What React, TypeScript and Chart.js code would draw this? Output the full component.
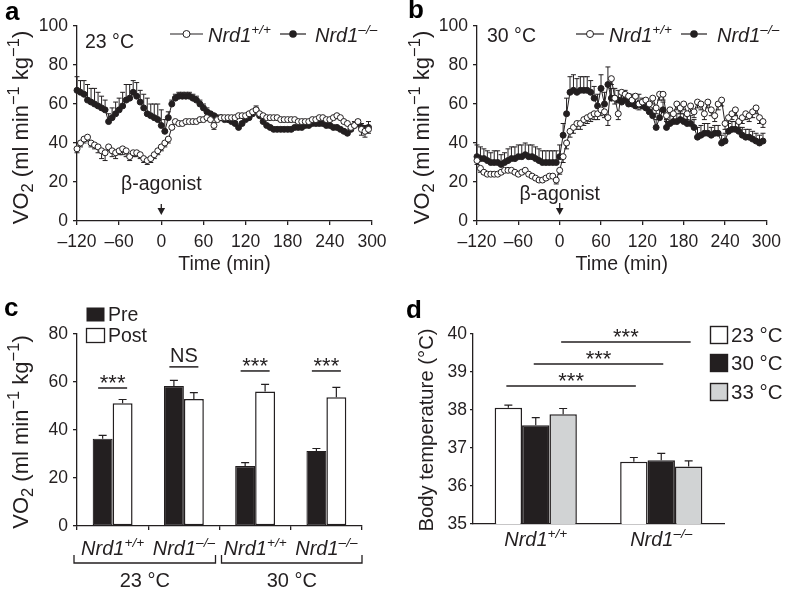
import React, { useEffect, useRef } from "react";
import { Chart, registerables } from "chart.js";
Chart.register(...registerables);

const FONT = '"Liberation Sans", Arial, Helvetica, sans-serif';
const INK = "#231f20";
const GREY = "#d1d3d4";
Chart.defaults.font.family = FONT;
Chart.defaults.color = INK;

// ---------- DATA ----------
const TIMES = [
  -120, -115, -110, -105, -100, -95, -90, -85, -80, -75, -70, -65,
  -60, -55, -50, -45, -40, -35, -30, -25, -20, -15, -10, -5,
  0, 5, 10, 15, 20, 25, 30, 35, 40, 45, 50, 55,
  60, 65, 70, 75, 80, 85, 90, 95, 100, 105, 110, 115,
  120, 125, 130, 135, 140, 145, 150, 155, 160, 165, 170, 175,
  180, 185, 190, 195, 200, 205, 210, 215, 220, 225, 230, 235,
  240, 245, 250, 255, 260, 265, 270, 275, 280, 285, 290, 295,
];
const TIME_TICKS = [-120, -60, 0, 60, 120, 180, 240, 300];

// Panel a (23 °C)
const WT_A = [
  37, 40, 42, 43, 40, 39, 38, 36, 35, 38, 36, 35,
  36, 37, 36, 33, 35, 35, 34, 32, 31, 32, 34, 36,
  38, 40, 42, 48, 51, 50, 50, 51, 51, 51, 51, 52,
  52, 53, 52, 49, 52, 53, 53, 53, 53, 53, 54, 54,
  54, 55, 56, 57, 55, 54, 53, 53, 53, 53, 52, 52,
  52, 52, 52, 51, 51, 51, 51, 52, 52, 53, 53, 52,
  52, 53, 54, 53, 51, 50, 48, 49, 51, 47, 46, 47,
];
const WT_A_ERR = [
  2, 2, 2, 2, 2, 2, 3, 4, 4, 2, 3, 3,
  2, 3, 3, 2, 2, 2, 2, 2, 2, 2, 2, 2,
  2, 2, 2, 1, 1, 1, 1, 1, 1, 1, 1, 1,
  1, 1, 1, 2, 1, 1, 1, 1, 1, 1, 1, 1,
  1, 1, 1, 1, 1, 1, 1, 1, 1, 1, 1, 1,
  1, 1, 1, 1, 1, 1, 1, 1, 1, 1, 1, 1,
  1, 1, 1, 1, 1, 1, 1, 1, 1, 3, 3, 2,
];
const KO_A = [
  67, 66, 65, 62, 61, 60, 59, 58, 57, 51, 53, 55,
  57, 59, 62, 63, 66, 64, 61, 58, 55, 54, 53, 52,
  49, 46, 53, 60, 63, 64, 64, 64, 64, 63, 62, 60,
  58, 56, 55, 54, 53, 53, 52, 52, 51, 50, 48, 50,
  52, 53, 55, 57, 54, 51, 49, 48, 47, 47, 47, 47,
  47, 47, 48, 48, 48, 49, 49, 50, 50, 50, 50, 49,
  49, 48, 48, 47, 46, 45, 47, 49, 50, 48, 47, 48,
];
const KO_A_ERR = [
  7, 6, 7, 8, 7, 8, 7, 6, 5, 4, 5, 6,
  6, 7, 8, 7, 6, 7, 6, 7, 8, 6, 7, 8,
  8, 6, 3, 2, 2, 2, 2, 2, 2, 2, 2, 2,
  2, 2, 1, 1, 1, 1, 1, 1, 1, 1, 1, 1,
  1, 1, 1, 2, 1, 1, 1, 1, 1, 1, 1, 1,
  1, 1, 1, 1, 1, 1, 1, 2, 2, 3, 2, 1,
  1, 1, 1, 1, 1, 1, 1, 2, 2, 2, 2, 3,
];

// Panel b (30 °C)
const WT_B = [
  31, 27, 25, 24, 24, 24, 24, 25, 26, 26, 26, 25,
  24, 25, 26, 24, 23, 22, 21, 21, 22, 23, 23, 21,
  26, 33, 40, 46, 48, 50, 50, 52, 53, 54, 55, 55,
  57, 56, 53, 73, 63, 55, 66, 65, 64, 62, 64, 60,
  61, 62, 60, 63, 58, 65, 65, 54, 57, 55, 60, 58,
  60, 55, 59, 56, 61, 60, 55, 61, 57, 54, 60, 62,
  50, 53, 55, 57, 51, 53, 55, 54, 56, 58, 53, 51,
];
const WT_B_ERR = [
  2, 2, 1, 1, 1, 1, 1, 1, 1, 1, 1, 1,
  1, 1, 1, 1, 1, 1, 1, 1, 1, 1, 1, 2,
  2, 3, 3, 3, 3, 3, 3, 3, 3, 3, 3, 3,
  3, 3, 4, 3, 3, 3, 3, 3, 3, 3, 3, 3,
  3, 3, 3, 3, 3, 3, 3, 3, 3, 3, 3, 3,
  3, 3, 3, 3, 3, 3, 3, 3, 3, 3, 3, 3,
  3, 3, 3, 3, 3, 3, 3, 3, 3, 3, 3, 3,
];
const KO_B = [
  33, 32, 32, 31, 30, 30, 30, 29, 30, 31, 32, 32,
  33, 33, 34, 33, 33, 32, 31, 30, 30, 30, 30, 30,
  33, 44, 55, 66, 67, 66, 67, 67, 67, 66, 63, 59,
  68, 60, 70, 63, 63, 62, 61, 62, 60, 60, 59, 60,
  59, 58, 56, 54, 48, 53, 57, 48, 50, 51, 51, 52,
  51, 50, 50, 48, 43, 44, 45, 45, 44, 45, 45, 40,
  41, 46, 47, 47, 46, 44, 43, 43, 42, 41, 40, 41,
];
const KO_B_ERR = [
  6, 6, 5, 5, 5, 6, 6, 5, 5, 6, 6, 6,
  6, 6, 6, 6, 6, 6, 6, 6, 6, 6, 6, 6,
  6, 6, 8, 8, 8, 7, 7, 7, 7, 6, 6, 6,
  7, 6, 9, 5, 5, 5, 5, 5, 5, 5, 5, 5,
  4, 4, 4, 4, 4, 4, 4, 4, 4, 4, 4, 4,
  4, 4, 4, 4, 5, 5, 5, 5, 4, 4, 4, 4,
  4, 4, 4, 4, 4, 4, 4, 4, 4, 4, 4, 4,
];

// Panel c
const C_GROUPS = ["Nrd1+/+ 23", "Nrd1-/- 23", "Nrd1+/+ 30", "Nrd1-/- 30"];
const C_PRE = [36.4, 58.3, 25.0, 31.3];
const C_PRE_ERR = [1.4, 2.4, 1.4, 1.0];
const C_POST = [51.1, 52.9, 56.0, 53.6];
const C_POST_ERR = [1.6, 2.7, 3.0, 4.2];
const C_SIG = ["***", "NS", "***", "***"];
const C_SIG_Y = [57.5, 66.3, 64.6, 64.6];

// Panel d
const D_GROUPS = ["Nrd1+/+", "Nrd1-/-"];
const D_T23 = [38.06, 36.64];
const D_T23_ERR = [0.07, 0.11];
const D_T30 = [37.6, 36.68];
const D_T30_ERR = [0.2, 0.18];
const D_T33 = [37.89, 36.51];
const D_T33_ERR = [0.15, 0.15];
const D_SIG_Y = [38.63, 39.21, 39.79];

// ---------- TEXT HELPERS ----------
type Seg = { t: string; s?: "sub" | "sup"; i?: boolean };
function segFont(g: Seg, size: number, ratio: number) {
  const sz = g.s ? size * ratio : size;
  return `${g.i ? "italic " : ""}${sz}px ${FONT}`;
}
function richWidth(ctx: CanvasRenderingContext2D, segs: Seg[], size: number, ratio: number) {
  let w = 0;
  for (const g of segs) {
    ctx.font = segFont(g, size, ratio);
    w += ctx.measureText(g.t).width;
  }
  return w;
}
function drawRich(
  ctx: CanvasRenderingContext2D,
  segs: Seg[],
  x: number,
  yMid: number,
  size: number,
  align: "left" | "center" | "right" = "left",
  ratio = 0.68
) {
  const w = richWidth(ctx, segs, size, ratio);
  let cx = align === "left" ? x : align === "center" ? x - w / 2 : x - w;
  const base = yMid + size * 0.36;
  ctx.save();
  ctx.fillStyle = INK;
  ctx.textAlign = "left";
  ctx.textBaseline = "alphabetic";
  for (const g of segs) {
    ctx.font = segFont(g, size, ratio);
    const dy = g.s === "sub" ? size * 0.22 : g.s === "sup" ? -size * 0.4 : 0;
    ctx.fillText(g.t, cx, base + dy);
    cx += ctx.measureText(g.t).width;
  }
  ctx.restore();
}
function drawRotated(ctx: CanvasRenderingContext2D, segs: Seg[], cx: number, cy: number, size: number, ratio = 0.68) {
  ctx.save();
  ctx.translate(cx, cy);
  ctx.rotate(-Math.PI / 2);
  drawRich(ctx, segs, 0, 0, size, "center", ratio);
  ctx.restore();
}
function line(ctx: CanvasRenderingContext2D, x1: number, y1: number, x2: number, y2: number, w = 1.3) {
  ctx.save();
  ctx.strokeStyle = INK;
  ctx.lineWidth = w;
  ctx.beginPath();
  ctx.moveTo(x1, y1);
  ctx.lineTo(x2, y2);
  ctx.stroke();
  ctx.restore();
}
function letter(ctx: CanvasRenderingContext2D, t: string, x: number, base: number) {
  ctx.save();
  ctx.fillStyle = "#000";
  ctx.font = `bold 26px ${FONT}`;
  ctx.textAlign = "left";
  ctx.textBaseline = "alphabetic";
  ctx.fillText(t, x, base);
  ctx.restore();
}

const WT_SEG: Seg[] = [{ t: "Nrd1", i: true }, { t: "+/+", s: "sup", i: true }];
const KO_SEG: Seg[] = [{ t: "Nrd1", i: true }, { t: "\u2013/\u2013", s: "sup", i: true }];
const VO2_SEG: Seg[] = [
  { t: "VO" },
  { t: "2", s: "sub" },
  { t: " (ml min" },
  { t: "\u22121", s: "sup" },
  { t: " kg" },
  { t: "\u22121", s: "sup" },
  { t: ")" },
];

// ---------- PLUGINS ----------
function drawErr(chart: any, kind: string) {
  const ctx: CanvasRenderingContext2D = chart.ctx;
  const ys = chart.scales.y;
  chart.data.datasets.forEach((ds: any, di: number) => {
    const meta = chart.getDatasetMeta(di);
    if (meta.type !== kind) return;
    const cap = ds.errCap ?? 2.5;
    ctx.save();
    ctx.strokeStyle = INK;
    ctx.lineWidth = ds.errWidth ?? 1;
    meta.data.forEach((el: any, i: number) => {
      const raw = ds.data[i];
      const v = typeof raw === "number" ? raw : raw.y;
      const segs: number[] = [];
      if (ds.errUp) segs.push(v + ds.errUp[i]);
      if (ds.errDown) segs.push(v - ds.errDown[i]);
      for (const e of segs) {
        const yp = ys.getPixelForValue(e);
        ctx.beginPath();
        ctx.moveTo(el.x, el.y);
        ctx.lineTo(el.x, yp);
        ctx.moveTo(el.x - cap, yp);
        ctx.lineTo(el.x + cap, yp);
        ctx.stroke();
      }
    });
    ctx.restore();
  });
}
const errorBarPlugin = {
  id: "errbars",
  beforeDatasetsDraw(chart: any) {
    drawErr(chart, "line");
  },
  afterDatasetsDraw(chart: any) {
    drawErr(chart, "bar");
  },
};

const TICK_SIZE = 17.5;
const axisCommon = (pad: number, tick: number) => ({
  ticks: { font: { family: FONT, size: TICK_SIZE }, color: INK, padding: pad },
  grid: { drawOnChartArea: false, color: INK, tickLength: tick, lineWidth: 1.3 },
  border: { color: INK, width: 1.3 },
});

// ---------- TIME PANELS ----------
type TimeP = {
  W: number;
  H: number;
  area: { l: number; r: number; t: number; b: number };
  wt: number[];
  ko: number[];
  wtErr: number[];
  koErr: number[];
  letter: string;
  letterX: number;
  letterY: number;
  temp: string;
  tempX: number;
  tempY: number;
  leg: { y: number; l1: number; l1e: number; t1: number; l2: number; l2e: number; t2: number };
  agoY: number;
  arrow: [number, number];
  yTitleX: number;
};

function timeConfig(p: TimeP): any {
  const pts = (arr: number[]) => TIMES.map((t, i) => ({ x: t, y: arr[i] }));
  const base = axisCommon(6, 4);
  return {
    type: "line",
    data: {
      datasets: [
        {
          label: "wt",
          data: pts(p.wt),
          errDown: p.wtErr,
          borderColor: INK,
          borderWidth: 1,
          pointRadius: 3,
          pointBackgroundColor: "#fff",
          pointBorderColor: INK,
          pointBorderWidth: 1,
          clip: false,
        },
        {
          label: "ko",
          data: pts(p.ko),
          errUp: p.koErr,
          borderColor: INK,
          borderWidth: 1,
          pointRadius: 3,
          pointBackgroundColor: INK,
          pointBorderColor: INK,
          pointBorderWidth: 1,
          clip: false,
        },
      ],
    },
    options: {
      responsive: false,
      animation: false,
      events: [],
      layout: { padding: { left: 0, right: p.W - p.area.r, top: p.area.t, bottom: 0 } },
      plugins: { legend: { display: false }, tooltip: { enabled: false } },
      scales: {
        x: {
          type: "linear",
          min: -120,
          max: 300,
          afterFit: (s: any) => {
            s.height = p.H - p.area.b;
          },
          afterBuildTicks: (s: any) => {
            s.ticks = TIME_TICKS.map((v) => ({ value: v }));
          },
          ticks: {
            ...base.ticks,
            padding: 7,
            maxRotation: 0,
            autoSkip: false,
            callback: (v: any) => (Number(v) < 0 ? "\u2013" + Math.abs(Number(v)) : String(v)),
          },
          grid: base.grid,
          border: base.border,
        },
        y: {
          min: 0,
          max: 100,
          afterFit: (s: any) => {
            s.width = p.area.l;
          },
          ticks: { ...base.ticks, stepSize: 20, padding: 5 },
          grid: base.grid,
          border: base.border,
        },
      },
    },
    plugins: [
      errorBarPlugin,
      {
        id: "timeDecor",
        afterDraw(chart: any) {
          const ctx: CanvasRenderingContext2D = chart.ctx;
          const ca = chart.chartArea;
          letter(ctx, p.letter, p.letterX, p.letterY);
          drawRich(ctx, [{ t: p.temp }], p.tempX, p.tempY, 19.5);
          // legend
          const L = p.leg;
          line(ctx, L.l1, L.y, L.l1e, L.y, 1.2);
          ctx.save();
          ctx.beginPath();
          ctx.arc((L.l1 + L.l1e) / 2, L.y, 3.5, 0, Math.PI * 2);
          ctx.fillStyle = "#fff";
          ctx.fill();
          ctx.strokeStyle = INK;
          ctx.lineWidth = 1;
          ctx.stroke();
          ctx.restore();
          drawRich(ctx, WT_SEG, L.t1, L.y + 1, 20);
          line(ctx, L.l2, L.y, L.l2e, L.y, 1.2);
          ctx.save();
          ctx.beginPath();
          ctx.arc((L.l2 + L.l2e) / 2, L.y, 3.8, 0, Math.PI * 2);
          ctx.fillStyle = INK;
          ctx.fill();
          ctx.restore();
          drawRich(ctx, KO_SEG, L.t2, L.y + 1, 20);
          // agonist
          const x0 = chart.scales.x.getPixelForValue(0);
          drawRich(ctx, [{ t: "\u03b2-agonist" }], x0, p.agoY, 19.5, "center");
          line(ctx, x0, p.arrow[0], x0, p.arrow[1] - 4, 1.3);
          ctx.save();
          ctx.fillStyle = INK;
          ctx.beginPath();
          ctx.moveTo(x0 - 3.8, p.arrow[1] - 7);
          ctx.lineTo(x0 + 3.8, p.arrow[1] - 7);
          ctx.lineTo(x0, p.arrow[1]);
          ctx.closePath();
          ctx.fill();
          ctx.restore();
          // titles
          drawRich(ctx, [{ t: "Time (min)" }], (ca.left + ca.right) / 2, 263, 19.5, "center");
          drawRotated(ctx, VO2_SEG, p.yTitleX, (ca.top + ca.bottom) / 2 + 4, 22, 0.75);
        },
      },
    ],
  };
}

const PANEL_A: TimeP = {
  W: 394,
  H: 300,
  area: { l: 77, r: 372, t: 26, b: 221 },
  wt: WT_A,
  ko: KO_A,
  wtErr: WT_A_ERR,
  koErr: KO_A_ERR,
  letter: "a",
  letterX: 5,
  letterY: 20,
  temp: "23 \u00b0C",
  tempX: 85,
  tempY: 41,
  leg: { y: 34, l1: 170, l1e: 203, t1: 208, l2: 280, l2e: 306, t2: 315 },
  agoY: 183,
  arrow: [204, 215],
  yTitleX: 20,
};
const PANEL_B: TimeP = {
  W: 394,
  H: 300,
  area: { l: 83, r: 377, t: 26, b: 221 },
  wt: WT_B,
  ko: KO_B,
  wtErr: WT_B_ERR,
  koErr: KO_B_ERR,
  letter: "b",
  letterX: 14,
  letterY: 18,
  temp: "30 \u00b0C",
  tempX: 93,
  tempY: 35,
  leg: { y: 34, l1: 182, l1e: 210, t1: 215, l2: 287, l2e: 313, t2: 323 },
  agoY: 193,
  arrow: [203, 215],
  yTitleX: 27,
};

// ---------- PANEL C ----------
function configC(): any {
  const W = 394,
    H = 292;
  const area = { l: 77, r: 362, t: 34, b: 226 };
  const base = axisCommon(5, 4);
  const bar = (label: string, data: number[], err: number[], fill: string, bw: number) => ({
    label,
    data,
    errUp: err,
    errCap: 4,
    errWidth: 1.2,
    backgroundColor: fill,
    borderColor: INK,
    borderWidth: bw,
    borderSkipped: false,
    categoryPercentage: 0.56,
    barPercentage: 1,
  });
  return {
    type: "bar",
    data: {
      labels: C_GROUPS,
      datasets: [bar("Pre", C_PRE, C_PRE_ERR, INK, 1.2), bar("Post", C_POST, C_POST_ERR, "#fff", 1.5)],
    },
    options: {
      responsive: false,
      animation: false,
      events: [],
      layout: { padding: { left: 0, right: W - area.r, top: area.t, bottom: 0 } },
      plugins: { legend: { display: false }, tooltip: { enabled: false } },
      scales: {
        x: {
          afterFit: (s: any) => {
            s.height = H - area.b;
          },
          ticks: { display: false },
          grid: { ...base.grid, offset: true },
          border: base.border,
        },
        y: {
          min: 0,
          max: 80,
          afterFit: (s: any) => {
            s.width = area.l;
          },
          ticks: { ...base.ticks, stepSize: 20 },
          grid: base.grid,
          border: base.border,
        },
      },
    },
    plugins: [
      errorBarPlugin,
      {
        id: "cDecor",
        afterDraw(chart: any) {
          const ctx: CanvasRenderingContext2D = chart.ctx;
          const xs = chart.scales.x;
          const ys = chart.scales.y;
          const ca = chart.chartArea;
          letter(ctx, "c", 4, 16);
          // legend
          ctx.save();
          ctx.fillStyle = INK;
          ctx.fillRect(86.5, 7.5, 18, 14);
          ctx.fillStyle = "#fff";
          ctx.strokeStyle = INK;
          ctx.lineWidth = 1.3;
          ctx.fillRect(86.5, 28.5, 18, 14);
          ctx.strokeRect(86.5, 28.5, 18, 14);
          ctx.restore();
          drawRich(ctx, [{ t: "Pre" }], 108, 14, 19.5);
          drawRich(ctx, [{ t: "Post" }], 108, 35, 19.5);
          // significance + category labels
          const cw = xs.getPixelForValue(1) - xs.getPixelForValue(0);
          C_GROUPS.forEach((_, i) => {
            const cx = xs.getPixelForValue(i);
            const y = ys.getPixelForValue(C_SIG_Y[i]);
            line(ctx, cx - 14.5, y, cx + 14.5, y, 1.5);
            if (C_SIG[i] === "NS") drawRich(ctx, [{ t: "NS" }], cx, y - 12, 20, "center");
            else drawRich(ctx, [{ t: C_SIG[i] }], cx, y - 6, 22, "center");
            drawRich(ctx, i % 2 === 0 ? WT_SEG : KO_SEG, cx, 248, 20, "center");
          });
          // brackets
          const brackets: [number, number, number, string][] = [
            [ca.left - 3, xs.getPixelForValue(1) + cw / 2 - 4, 0, "23 \u00b0C"],
            [xs.getPixelForValue(2) - cw / 2 + 2, ca.right, 0, "30 \u00b0C"],
          ];
          for (const [x1, x2, , lab] of brackets) {
            const xm = (x1 + x2) / 2;
            ctx.save();
            ctx.strokeStyle = INK;
            ctx.lineWidth = 1.3;
            ctx.beginPath();
            ctx.moveTo(x1, 255);
            ctx.lineTo(x1, 263);
            ctx.lineTo(x2, 263);
            ctx.lineTo(x2, 255);
            ctx.stroke();
            ctx.restore();
            drawRich(ctx, [{ t: lab }], xm, 280, 20, "center");
          }
          drawRotated(ctx, VO2_SEG, 20, (ca.top + ca.bottom) / 2 + 2, 22, 0.75);
        },
      },
    ],
  };
}

// ---------- PANEL D ----------
function configD(): any {
  const W = 394,
    H = 292;
  const area = { l: 79, r: 330, t: 34, b: 224 };
  const base = axisCommon(3, 3);
  const ds = (label: string, data: number[], err: number[], fill: string) => ({
    label,
    data,
    errUp: err,
    errCap: 4,
    errWidth: 1.2,
    backgroundColor: fill,
    borderColor: INK,
    borderWidth: 1.5,
    borderSkipped: false,
    categoryPercentage: 0.655,
    barPercentage: 1,
  });
  return {
    type: "bar",
    data: {
      labels: D_GROUPS,
      datasets: [
        ds("23 \u00b0C", D_T23, D_T23_ERR, "#fff"),
        ds("30 \u00b0C", D_T30, D_T30_ERR, INK),
        ds("33 \u00b0C", D_T33, D_T33_ERR, GREY),
      ],
    },
    options: {
      responsive: false,
      animation: false,
      events: [],
      layout: { padding: { left: 0, right: W - area.r, top: area.t, bottom: 0 } },
      plugins: { legend: { display: false }, tooltip: { enabled: false } },
      scales: {
        x: {
          afterFit: (s: any) => {
            s.height = H - area.b;
          },
          ticks: { display: false },
          grid: { display: false },
          border: base.border,
        },
        y: {
          min: 35,
          max: 40,
          afterFit: (s: any) => {
            s.width = area.l;
          },
          ticks: { ...base.ticks, stepSize: 1 },
          grid: base.grid,
          border: base.border,
        },
      },
    },
    plugins: [
      errorBarPlugin,
      {
        id: "dDecor",
        afterDraw(chart: any) {
          const ctx: CanvasRenderingContext2D = chart.ctx;
          const xs = chart.scales.x;
          const ys = chart.scales.y;
          const ca = chart.chartArea;
          letter(ctx, "d", 12, 18);
          D_SIG_Y.forEach((v, k) => {
            const meta = chart.getDatasetMeta(k);
            const xa = meta.data[0].x;
            const xb = meta.data[1].x;
            const y = ys.getPixelForValue(v);
            line(ctx, xa - 2, y, xb + 2, y, 1.5);
            drawRich(ctx, [{ t: "***" }], (xa + xb) / 2, y - 6, 22, "center");
          });
          const fills = ["#fff", INK, GREY];
          const labs = ["23 \u00b0C", "30 \u00b0C", "33 \u00b0C"];
          const rows = [35, 63, 92];
          rows.forEach((ry, k) => {
            ctx.save();
            ctx.fillStyle = fills[k];
            ctx.strokeStyle = INK;
            ctx.lineWidth = 1.4;
            ctx.fillRect(316.5, ry - 8.5, 17, 17);
            ctx.strokeRect(316.5, ry - 8.5, 17, 17);
            ctx.restore();
            drawRich(ctx, [{ t: labs[k] }], 337, ry, 20.5);
          });
          D_GROUPS.forEach((_, i) => {
            drawRich(ctx, i === 0 ? WT_SEG : KO_SEG, xs.getPixelForValue(i), 239, 20, "center");
          });
          drawRotated(ctx, [{ t: "Body temperature (\u00b0C)" }], 32, (ca.top + ca.bottom) / 2 + 1, 20.3);
        },
      },
    ],
  };
}

// ---------- COMPONENTS ----------
function ChartPanel(props: { left: number; top: number; width: number; height: number; make: () => any }) {
  const ref = useRef<HTMLCanvasElement>(null);
  useEffect(() => {
    const chart = new Chart(ref.current as HTMLCanvasElement, props.make());
    return () => chart.destroy();
  }, []);
  return (
    <div style={{ position: "absolute", left: props.left, top: props.top, width: props.width, height: props.height }}>
      <canvas
        ref={ref}
        width={props.width}
        height={props.height}
        style={{ width: props.width, height: props.height, display: "block" }}
      />
    </div>
  );
}

export default function App() {
  return (
    <div style={{ position: "fixed", left: 0, top: 0, width: 788, height: 592, background: "#fff", overflow: "hidden" }}>
      <ChartPanel left={0} top={0} width={394} height={300} make={() => timeConfig(PANEL_A)} />
      <ChartPanel left={394} top={0} width={394} height={300} make={() => timeConfig(PANEL_B)} />
      <ChartPanel left={0} top={300} width={394} height={292} make={configC} />
      <ChartPanel left={394} top={300} width={394} height={292} make={configD} />
    </div>
  );
}
